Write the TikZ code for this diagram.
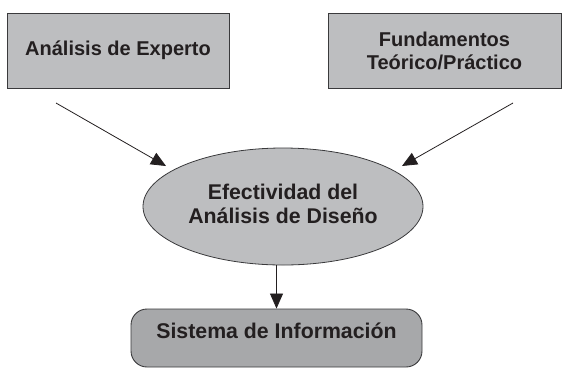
\documentclass[tikz,border=0pt]{standalone}
\usepackage{fontspec}
\setmainfont{Liberation Sans}
\usetikzlibrary{arrows.meta,shapes.geometric}
\definecolor{boxgray}{HTML}{BDBEC0}
\definecolor{sysgray}{HTML}{A7A8AA}
\definecolor{ink}{HTML}{231F20}
\definecolor{edge}{HTML}{3A3A3C}
\tikzset{
  x=1pt,y=-1pt,
  txt/.style={font=\fontsize{20}{23}\selectfont\bfseries, text=ink, align=center},
  bigtxt/.style={font=\fontsize{21.3}{24}\selectfont\bfseries, text=ink, align=center},
  sqbox/.style={txt, draw=edge, line width=0.9pt, fill=boxgray, inner sep=0pt},
  oval/.style={ellipse, draw=edge, line width=0.8pt, fill=boxgray, inner sep=0pt},
  rbox/.style={draw=edge, line width=0.9pt, fill=sysgray, rounded corners=16pt, inner sep=0pt},
  conn/.style={draw=ink, line width=0.8pt, -{Triangle[length=15pt,width=13pt]}}
}
\begin{document}
\begin{tikzpicture}
\useasboundingbox (0,0) rectangle (562,368);
\node[sqbox, minimum width=222pt, minimum height=75pt] (ae) at (118,50.5) {Análisis de Experto};
\node[sqbox, minimum width=233pt, minimum height=75pt] (ft) at (444.5,50.5) {Fundamentos\\Teórico/Práctico};
\node[oval, minimum width=280pt, minimum height=117pt] (ef) at (283,206.5) {};
\node[bigtxt] (eft) at (283,204) {Efectividad del\\Análisis de Diseño};
\node[rbox, minimum width=291pt, minimum height=58pt] (si) at (276.5,338) {};
\node[bigtxt] (sit) at (276.5,331) {Sistema de Información};
\coordinate (s1) at (56,103);
\coordinate (t1) at (166,166);
\coordinate (s2) at (513,103);
\coordinate (t2) at (402,166);
\draw[conn] (s1) -- (t1);
\draw[conn] (s2) -- (t2);
\draw[conn] (ef.south -| si.north) -- (si.north);
\end{tikzpicture}
\end{document}
